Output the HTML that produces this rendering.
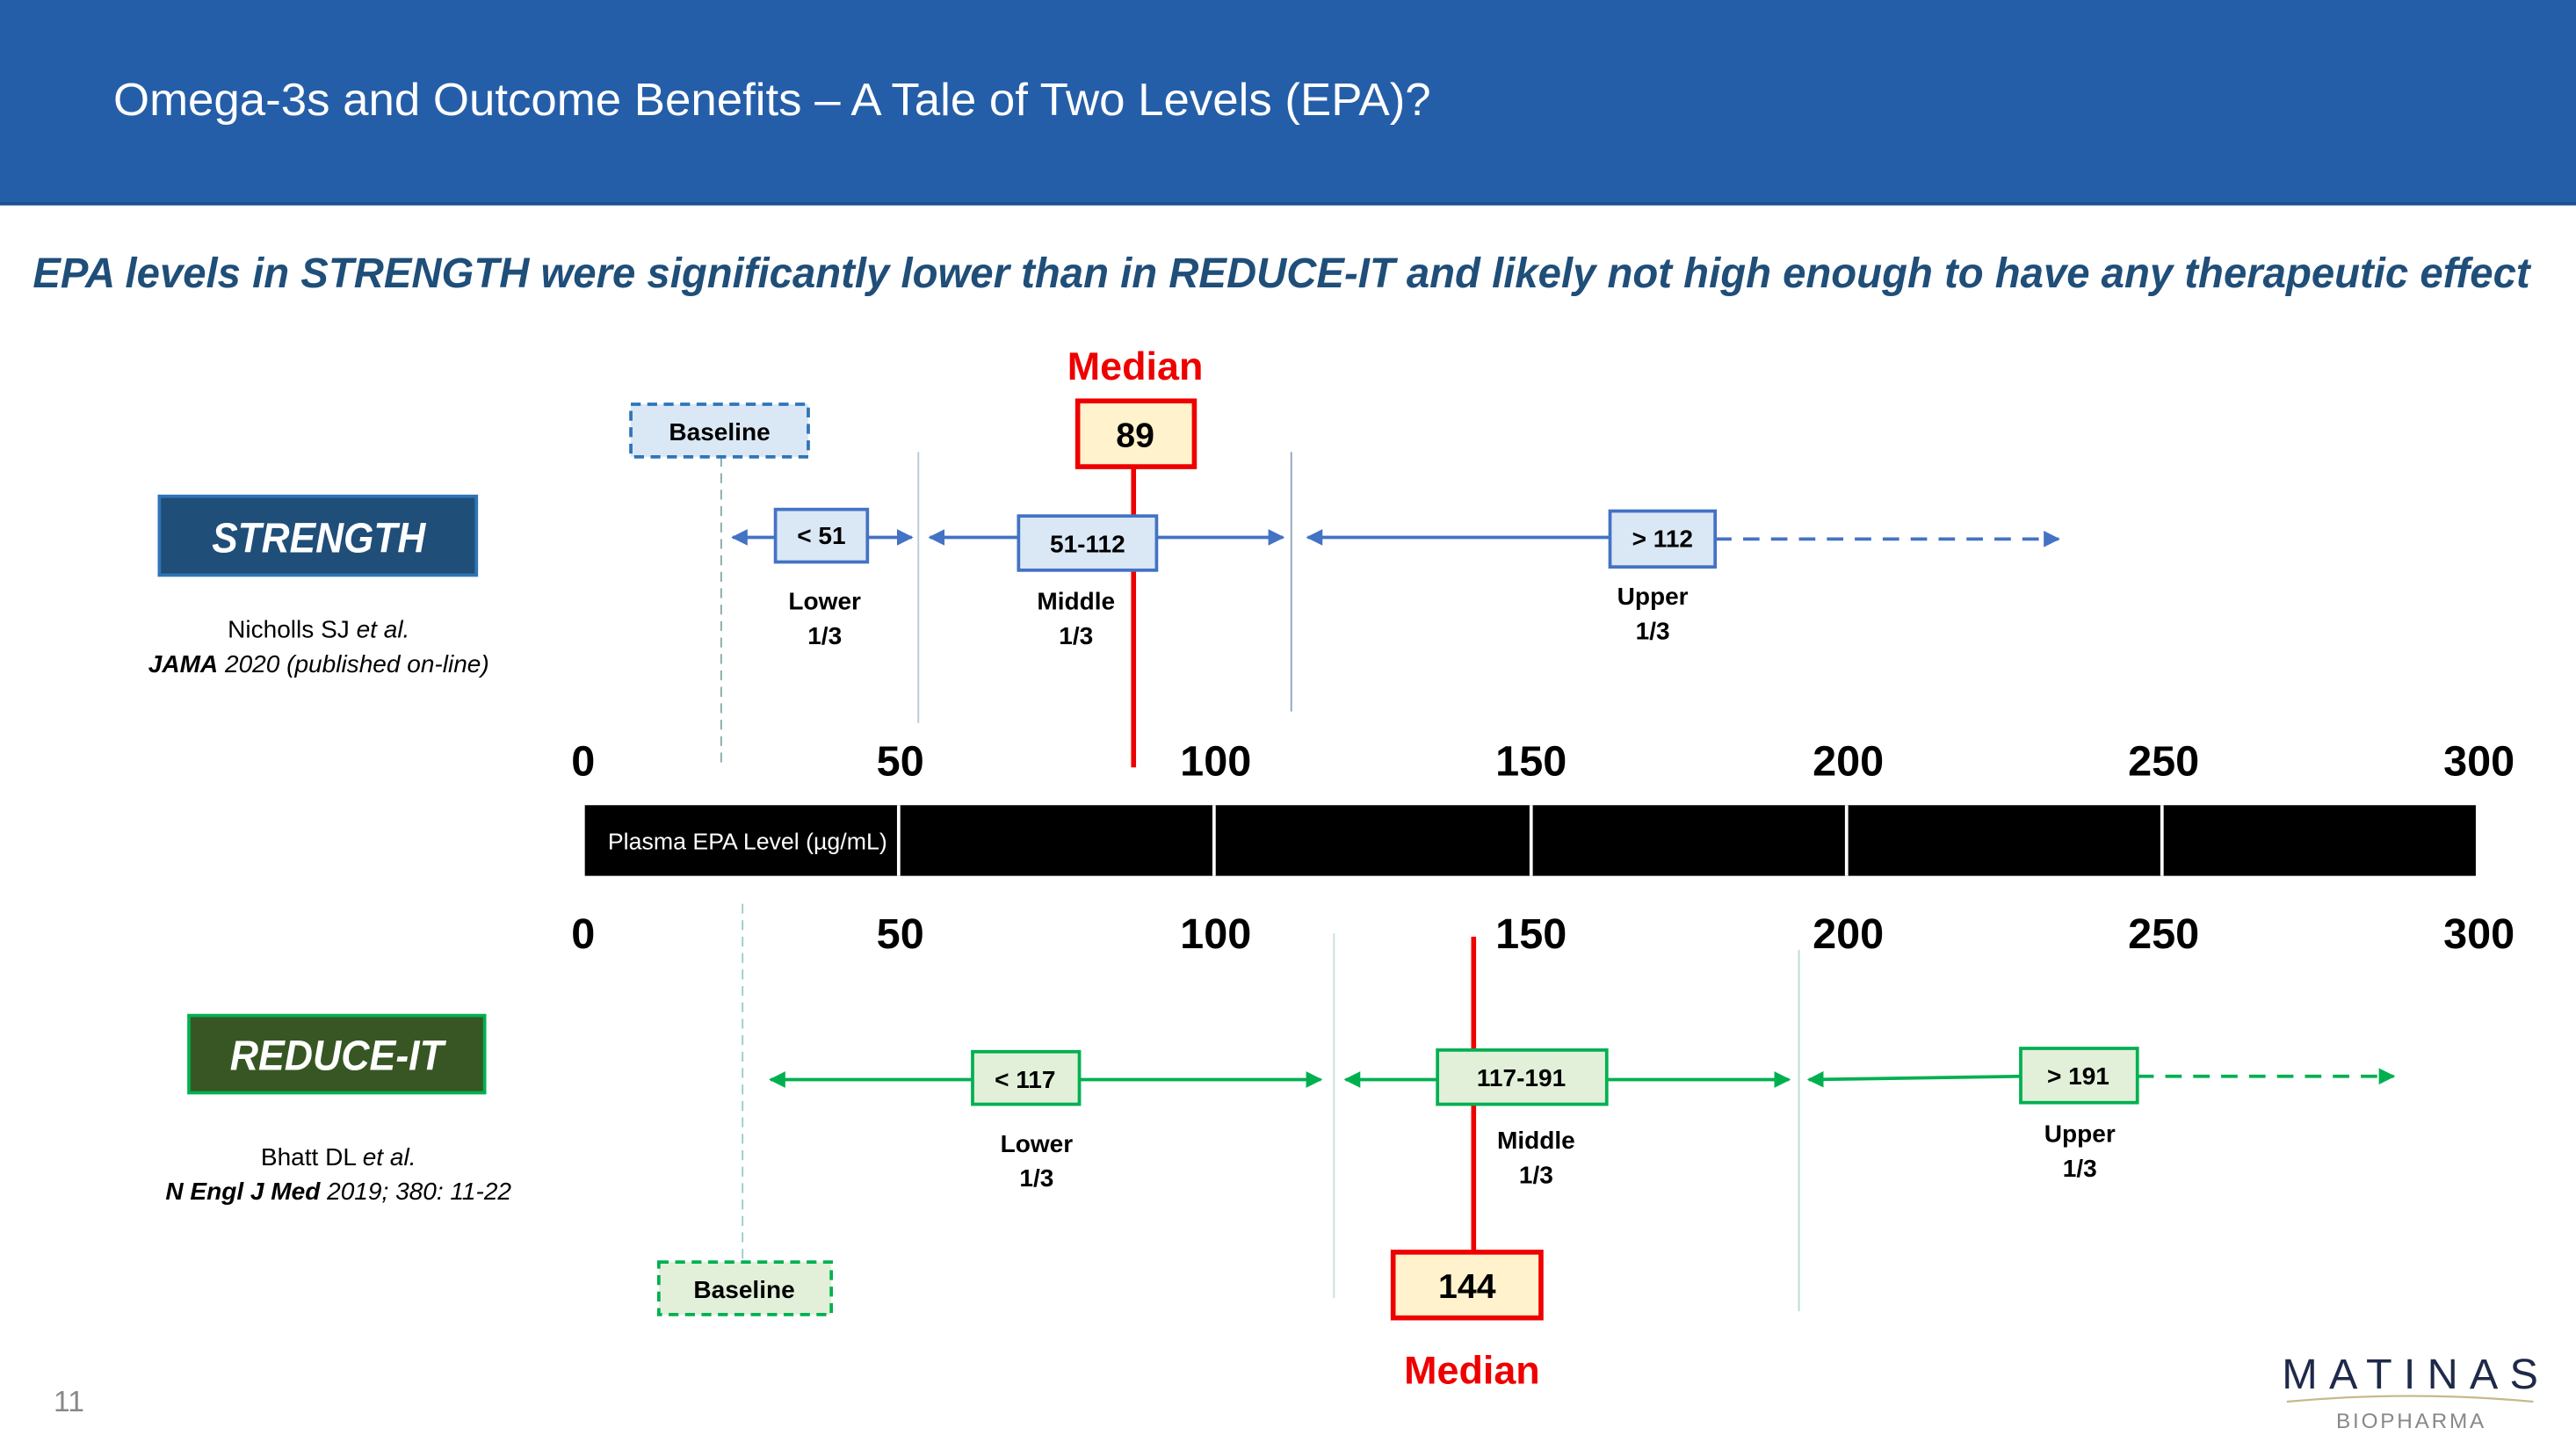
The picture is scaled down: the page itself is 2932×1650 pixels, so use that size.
<!DOCTYPE html>
<html><head><meta charset="utf-8"><style>
html,body{margin:0;padding:0;background:#fff;}
svg{display:block;}
text{font-family:"Liberation Sans",sans-serif;}
</style></head><body>
<svg width="2932" height="1650" viewBox="0 0 1568 882.4" preserveAspectRatio="none" xmlns="http://www.w3.org/2000/svg">
<defs>
<marker id="ab" viewBox="0 0 10 10" refX="9" refY="5" markerWidth="5" markerHeight="5" orient="auto-start-reverse"><path d="M0,0 L10,5 L0,10 z" fill="#4472c4"/></marker>
<marker id="ag" viewBox="0 0 10 10" refX="9" refY="5" markerWidth="5" markerHeight="5" orient="auto-start-reverse"><path d="M0,0 L10,5 L0,10 z" fill="#00b050"/></marker>
</defs>
<rect x="0" y="0" width="1568" height="124" fill="#255ea8"/>
<rect x="0" y="123" width="1568" height="2" fill="#1d4f8f"/>
<text x="69" y="70" font-size="28" fill="#fff" textLength="802" lengthAdjust="spacingAndGlyphs">Omega-3s and Outcome Benefits – A Tale of Two Levels (EPA)?</text>
<text x="20" y="175" font-size="26" font-weight="bold" font-style="italic" fill="#1f4e79" textLength="1520" lengthAdjust="spacingAndGlyphs">EPA levels in STRENGTH were significantly lower than in REDUCE-IT and likely not high enough to have any therapeutic effect</text>

<!-- STRENGTH -->
<rect x="97" y="302" width="193" height="48" fill="#1f4e79" stroke="#2e75b6" stroke-width="2"/>
<text x="194" y="336" font-size="26" font-weight="bold" font-style="italic" fill="#fff" text-anchor="middle" textLength="130" lengthAdjust="spacingAndGlyphs">STRENGTH</text>
<text x="194" y="388" font-size="15" fill="#000" text-anchor="middle">Nicholls SJ <tspan font-style="italic">et al.</tspan></text>
<text x="194" y="409" font-size="15" fill="#000" text-anchor="middle" font-style="italic"><tspan font-weight="bold">JAMA</tspan> 2020 (published on-line)</text>

<line x1="439" y1="278" x2="439" y2="467" stroke="#8aa" stroke-width="1" stroke-dasharray="6,4"/>
<line x1="559" y1="275" x2="559" y2="440" stroke="#b8c8d8" stroke-width="1"/>
<line x1="786" y1="275" x2="786" y2="433" stroke="#8ea4bf" stroke-width="1"/>
<rect x="384" y="246" width="108" height="32" fill="#dae8f5" stroke="#2e75b6" stroke-width="2" stroke-dasharray="6,4"/>
<text x="438" y="268" font-size="15" font-weight="bold" text-anchor="middle">Baseline</text>

<text x="691" y="231" font-size="24" font-weight="bold" fill="#e00" text-anchor="middle">Median</text>
<line x1="690" y1="284" x2="690" y2="467" stroke="#e00" stroke-width="3"/>
<rect x="656" y="244" width="71" height="40" fill="#fff2cc" stroke="#e00" stroke-width="3"/>
<text x="691" y="272" font-size="21" font-weight="bold" text-anchor="middle">89</text>

<g stroke="#4472c4" stroke-width="2">
<line x1="472" y1="327" x2="446" y2="327" marker-end="url(#ab)"/>
<line x1="528" y1="327" x2="555" y2="327" marker-end="url(#ab)"/>
<line x1="620" y1="327" x2="566" y2="327" marker-end="url(#ab)"/>
<line x1="704" y1="327" x2="781" y2="327" marker-end="url(#ab)"/>
<line x1="980" y1="327" x2="796" y2="327" marker-end="url(#ab)"/>
<line x1="1044" y1="328" x2="1253" y2="328" stroke-dasharray="10,7" marker-end="url(#ab)"/>
</g>
<g stroke="#4472c4" stroke-width="2" fill="#dae8f5">
<rect x="472" y="310" width="56" height="32"/>
<rect x="620" y="314" width="84" height="33"/>
<rect x="980" y="311" width="64" height="34"/>
</g>
<g font-size="15" font-weight="bold" text-anchor="middle">
<text x="500" y="331">&lt; 51</text>
<text x="662" y="336">51-112</text>
<text x="1012" y="333">&gt; 112</text>
<text x="502" y="371">Lower</text><text x="502" y="392">1/3</text>
<text x="655" y="371">Middle</text><text x="655" y="392">1/3</text>
<text x="1006" y="368">Upper</text><text x="1006" y="389">1/3</text>
</g>

<!-- axis -->
<g font-size="26" font-weight="bold" text-anchor="middle">
<text x="355" y="472">0</text><text x="548" y="472">50</text><text x="740" y="472">100</text><text x="932" y="472">150</text><text x="1125" y="472">200</text><text x="1317" y="472">250</text><text x="1509" y="472">300</text>
<text x="355" y="577">0</text><text x="548" y="577">50</text><text x="740" y="577">100</text><text x="932" y="577">150</text><text x="1125" y="577">200</text><text x="1317" y="577">250</text><text x="1509" y="577">300</text>
</g>
<rect x="356" y="490" width="1151" height="43" fill="#000"/>
<g stroke="#fff" stroke-width="2"><line x1="547" y1="490" x2="547" y2="533"/><line x1="739" y1="490" x2="739" y2="533"/><line x1="932" y1="490" x2="932" y2="533"/><line x1="1124" y1="490" x2="1124" y2="533"/><line x1="1316" y1="490" x2="1316" y2="533"/></g>
<text x="370" y="517" font-size="14" fill="#fff" textLength="170" lengthAdjust="spacingAndGlyphs">Plasma EPA Level (µg/mL)</text>

<!-- REDUCE-IT -->
<rect x="115" y="618" width="180" height="47" fill="#375623" stroke="#00b050" stroke-width="2"/>
<text x="205" y="651" font-size="26" font-weight="bold" font-style="italic" fill="#fff" text-anchor="middle" textLength="130" lengthAdjust="spacingAndGlyphs">REDUCE-IT</text>
<text x="206" y="709" font-size="15" text-anchor="middle">Bhatt DL <tspan font-style="italic">et al.</tspan></text>
<text x="206" y="730" font-size="15" text-anchor="middle" font-style="italic"><tspan font-weight="bold">N Engl J Med</tspan> 2019; 380: 11-22</text>

<line x1="452" y1="550" x2="452" y2="768" stroke="#9cc" stroke-width="1" stroke-dasharray="6,4"/>
<line x1="812" y1="568" x2="812" y2="790" stroke="#c8e0d8" stroke-width="1"/>
<line x1="1095" y1="578" x2="1095" y2="798" stroke="#b8dcd0" stroke-width="1"/>

<g stroke="#00b050" stroke-width="2">
<line x1="592" y1="657" x2="469" y2="657" marker-end="url(#ag)"/>
<line x1="657" y1="657" x2="804" y2="657" marker-end="url(#ag)"/>
<line x1="875" y1="657" x2="819" y2="657" marker-end="url(#ag)"/>
<line x1="978" y1="657" x2="1089" y2="657" marker-end="url(#ag)"/>
<line x1="1230" y1="655" x2="1101" y2="657" marker-end="url(#ag)"/>
<line x1="1301" y1="655" x2="1457" y2="655" stroke-dasharray="10,7" marker-end="url(#ag)"/>
</g>
<line x1="897" y1="570" x2="897" y2="762" stroke="#e00" stroke-width="3"/>
<g stroke="#00b050" stroke-width="2" fill="#e2f0d9">
<rect x="592" y="640" width="65" height="32"/>
<rect x="875" y="639" width="103" height="33"/>
<rect x="1230" y="638" width="71" height="33"/>
</g>
<g font-size="15" font-weight="bold" text-anchor="middle">
<text x="624" y="662">&lt; 117</text>
<text x="926" y="661">117-191</text>
<text x="1265" y="660">&gt; 191</text>
<text x="631" y="701">Lower</text><text x="631" y="722">1/3</text>
<text x="935" y="699">Middle</text><text x="935" y="720">1/3</text>
<text x="1266" y="695">Upper</text><text x="1266" y="716">1/3</text>
</g>
<rect x="401" y="768" width="105" height="32" fill="#e2f0d9" stroke="#00b050" stroke-width="2" stroke-dasharray="6,4"/>
<text x="453" y="790" font-size="15" font-weight="bold" text-anchor="middle">Baseline</text>
<rect x="848" y="762" width="90" height="40" fill="#fff2cc" stroke="#e00" stroke-width="3"/>
<text x="893" y="790" font-size="21" font-weight="bold" text-anchor="middle">144</text>
<text x="896" y="842" font-size="24" font-weight="bold" fill="#e00" text-anchor="middle">Median</text>

<text x="42" y="859" font-size="18" fill="#888" text-anchor="middle">11</text>
<text x="1467" y="845" font-size="26" fill="#1f2a4a" text-anchor="middle" textLength="156" lengthAdjust="spacing">MATINAS</text>
<path d="M1392,853 Q1467,846 1542,853" stroke="#c8b98a" stroke-width="1.2" fill="none"/>
<text x="1467" y="869" font-size="13" fill="#888" text-anchor="middle" textLength="90" lengthAdjust="spacing">BIOPHARMA</text>
</svg>
</body></html>
